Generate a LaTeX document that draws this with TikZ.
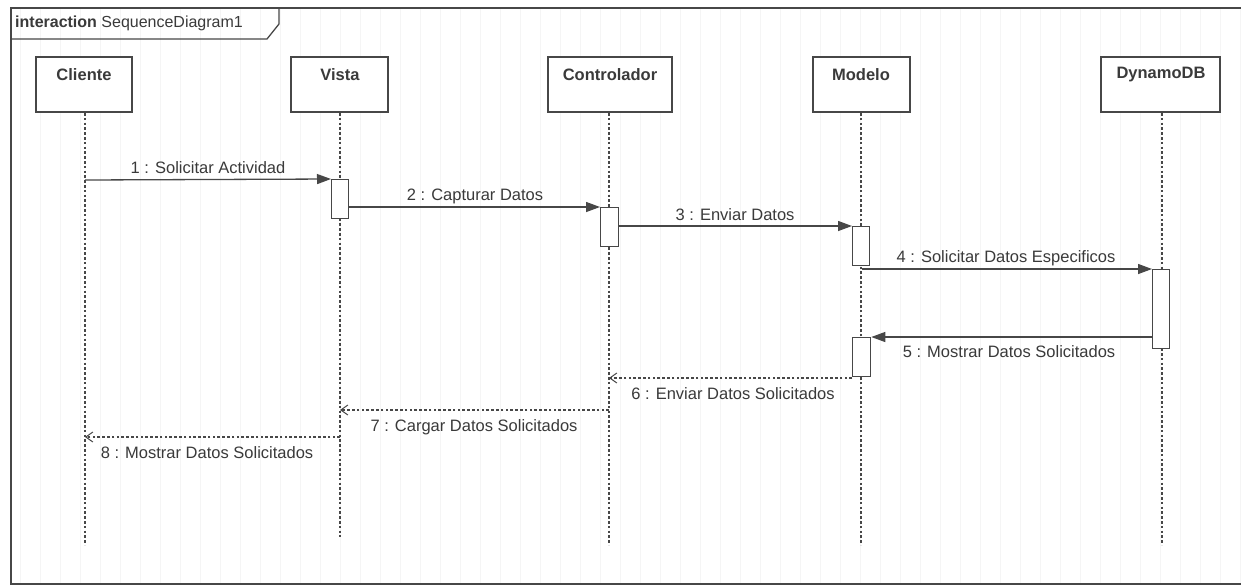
\documentclass[tikz,border=0pt]{standalone}
\usepackage{fontspec}
\setmainfont{Liberation Sans}
\usetikzlibrary{arrows.meta}
\definecolor{ink}{HTML}{474747}
\definecolor{txt}{HTML}{3A3A3A}
\begin{document}
\begin{tikzpicture}[x=1pt,y=-1pt,
  every node/.style={inner sep=0pt},
  head/.style={draw=ink,line width=1.3pt,fill=white,minimum height=55pt},
  htext/.style={font=\fontsize{16.5}{19}\selectfont\bfseries,text=txt},
  lifeline/.style={draw=ink,line width=1.1pt,dash pattern=on 2.6pt off 2.2pt},
  act/.style={draw=ink,line width=1.3pt,fill=white},
  call/.style={draw=ink,line width=1.3pt,-{Triangle[length=14pt,width=10pt]}},
  reply/.style={draw=ink,line width=1.1pt,dash pattern=on 2.6pt off 2.2pt,
    -{Straight Barb[length=7pt,width=10pt,line width=1pt]}},
  msg/.style={font=\fontsize{16.5}{19}\selectfont,text=txt}
]
\useasboundingbox (0,0) rectangle (1241,587);
\fill[white] (0,0) rectangle (1241,587);
% faint background grid
\draw[black!4,line width=0.5pt,step=20] (11,8) grid (1241,584);

% frame and its title tab
\draw[ink,line width=1.3pt] (1250,8) -- (11,8) -- (11,584) -- (1250,584);
\draw[ink,line width=1.3pt] (11,39) -- (267,39) -- (279,24) -- (279,8);
\node[anchor=west,text=txt,font=\fontsize{16}{18}\selectfont] (title) at (15,23.5)
  {\textbf{interaction} SequenceDiagram1};

% participants
\node[head,minimum width=96pt] (cli) at (84,84.5) {};
\node[head,minimum width=97pt] (vis) at (339.5,84.5) {};
\node[head,minimum width=124pt] (con) at (610,84.5) {};
\node[head,minimum width=97pt] (mod) at (861.5,84.5) {};
\node[head,minimum width=119pt] (dyn) at (1160.5,84.5) {};
\node[htext] (clit) at (84,75) {Cliente};
\node[htext] (vist) at (340,75) {Vista};
\node[htext] (cont) at (610,75) {Controlador};
\node[htext] (modt) at (861,75) {Modelo};
\node[htext] (dynt) at (1161,75) {DynamoDB};

% lifeline ends
\coordinate (cliE) at (85,545);
\coordinate (visE) at (340,537);
\coordinate (conE) at (609,545);
\coordinate (modE) at (861,545);
\coordinate (dynE) at (1162,545);
\draw[lifeline] (85,113) -- (cliE);
\draw[lifeline] (340,113) -- (visE);
\draw[lifeline] (609,113) -- (conE);
\draw[lifeline] (861,113) -- (modE);
\draw[lifeline] (1162,113) -- (dynE);

% activations
\node[act,anchor=north west,minimum width=17pt,minimum height=39pt] (a1) at (331,179) {};
\node[act,anchor=north west,minimum width=18pt,minimum height=39pt] (a2) at (600,207) {};
\node[act,anchor=north west,minimum width=17pt,minimum height=39pt] (a3) at (852,226) {};
\node[act,anchor=north west,minimum width=17pt,minimum height=79pt] (a4) at (1152,269) {};
\node[act,anchor=north west,minimum width=18pt,minimum height=39pt] (a5) at (852,337) {};

% message anchors
\coordinate (m1s) at (85,180);
\coordinate (m4s) at (862,269);
\coordinate (m6e) at (609,378);
\coordinate (m7s) at (609,410);
\coordinate (m7e) at (340,410);
\coordinate (m8s) at (340,437);
\coordinate (m8e) at (85,437);

% calls
\draw[call] (m1s) -- (a1.north west);
\draw[call] (a1.north east |- 0,207) -- (a2.north west);
\draw[call] (a2.east |- 0,226) -- (a3.north west);
\draw[call] (m4s) -- (a4.north west);
\draw[call] (a4.west |- 0,337) -- (a5.north east);
% replies
\draw[reply] (a5.south west |- 0,378) -- (m6e);
\draw[reply] (m7s) -- (m7e);
\draw[reply] (m8s) -- (m8e);

% message labels
\node[msg] (l1) at (208,168) {1 : Solicitar Actividad};
\node[msg] (l2) at (475,196) {2 : Capturar Datos};
\node[msg] (l3) at (735,215) {3 : Enviar Datos};
\node[msg] (l4) at (1006,258) {4 : Solicitar Datos Especificos};
\node[msg] (l5) at (1009,352) {5 : Mostrar Datos Solicitados};
\node[msg] (l6) at (733,394) {6 : Enviar Datos Solicitados};
\node[msg] (l7) at (474,427) {7 : Cargar Datos Solicitados};
\node[msg] (l8) at (207,453) {8 : Mostrar Datos Solicitados};
\end{tikzpicture}
\end{document}
